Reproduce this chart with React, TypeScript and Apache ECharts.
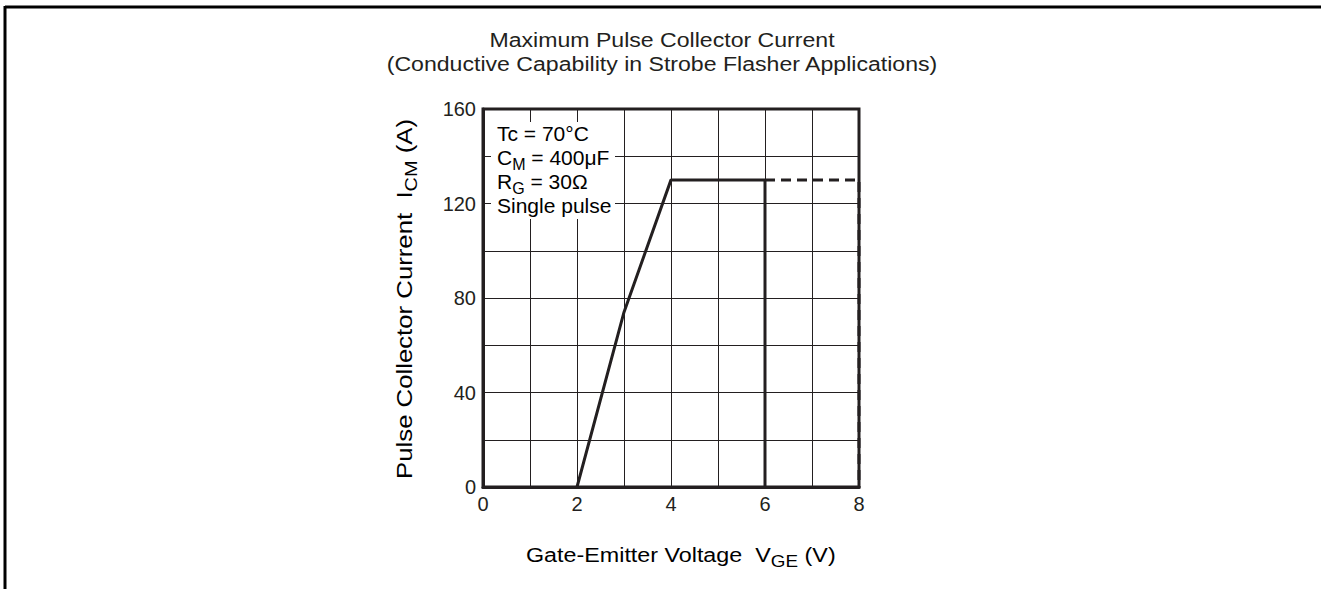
import React, { useEffect, useRef } from "react";
import * as echarts from "echarts";

const titleLines = [
  "Maximum Pulse Collector Current",
  "(Conductive Capability in Strobe Flasher Applications)",
];
const xTickLabels = [0, 2, 4, 6, 8];
const yTickLabels = [0, 40, 80, 120, 160];
const solidX = [2, 3, 4, 6, 6];
const solidY = [0, 74, 130, 130, 0];
const dashX = [6, 8, 8];
const dashY = [130, 130, 0];
const noteLines = [
  "{a|Tc = 70°C}",
  "{a|C}{s|M}{a| = 400μF}",
  "{a|R}{s|G}{a| = 30Ω}",
  "{a|Single pulse}",
];

const FONT = "'Liberation Sans', Arial, Helvetica, sans-serif";
const INK = "#231f20";

function rich(size: number, sub: number) {
  return {
    a: { fontSize: size, fontFamily: FONT, color: INK, lineHeight: size, verticalAlign: "top" },
    s: {
      fontSize: sub,
      fontFamily: FONT,
      color: INK,
      lineHeight: sub - 2,
      padding: [Math.round(size * 0.45), 0, 0, 0],
      verticalAlign: "top",
    },
  };
}

export default function App() {
  const ref = useRef<HTMLDivElement>(null);
  useEffect(() => {
    if (!ref.current) return;
    const chart = echarts.init(ref.current, undefined, { renderer: "svg" });
    const graphicEls: any[] = [
      { type: "line", shape: { x1: 5, y1: 6, x2: 5, y2: 589 }, style: { stroke: "#000", lineWidth: 3 }, z: 100 },
      { type: "line", shape: { x1: 5, y1: 7, x2: 1321, y2: 7 }, style: { stroke: "#000", lineWidth: 3 }, z: 100 },
      { type: "rect", shape: { x: 491, y: 122, width: 124, height: 97 }, style: { fill: "#fff" }, z: 100 },
      {
        type: "text",
        x: 662,
        y: 40,
        scaleX: 1.1,
        style: { text: titleLines[0], font: `21px ${FONT}`, fill: INK, align: "center", verticalAlign: "middle" },
        z: 100,
      },
      {
        type: "text",
        x: 662,
        y: 64,
        scaleX: 1.1,
        style: { text: titleLines[1], font: `21px ${FONT}`, fill: INK, align: "center", verticalAlign: "middle" },
        z: 100,
      },
      {
        type: "text",
        x: 526,
        y: 544,
        scaleX: 1.11,
        style: {
          text: "{a|Gate-Emitter Voltage  V}{s|GE}{a| (V)}",
          rich: rich(21, 17),
          align: "left",
          verticalAlign: "top",
        },
        z: 100,
      },
      {
        type: "text",
        x: 393,
        y: 299,
        rotation: Math.PI / 2,
        scaleX: 1.17,
        style: {
          text: "{a|Pulse Collector Current  I}{s|CM}{a| (A)}",
          rich: rich(22, 17),
          align: "center",
          verticalAlign: "top",
        },
        z: 100,
      },
    ];
    noteLines.forEach((t, i) => {
      graphicEls.push({
        type: "text",
        x: 497,
        y: 123 + i * 24,
        style: { text: t, rich: rich(21, 16), align: "left", verticalAlign: "top" },
        z: 101,
      });
    });

    chart.setOption({
      animation: false,
      backgroundColor: "#fff",
      grid: {
        left: 483,
        right: 462,
        top: 109,
        bottom: 102,
        show: true,
        borderColor: INK,
        borderWidth: 3,
        backgroundColor: "transparent",
      },
      xAxis: {
        type: "value",
        min: 0,
        max: 8,
        interval: 1,
        axisLine: { show: true, lineStyle: { color: INK, width: 3 } },
        axisTick: { show: false },
        splitLine: { show: true, lineStyle: { color: INK, width: 1 } },
        axisLabel: {
          margin: 7,
          fontSize: 20,
          fontFamily: FONT,
          color: INK,
          formatter: (v: number) => (xTickLabels.includes(v) ? String(v) : ""),
        },
      },
      yAxis: {
        type: "value",
        min: 0,
        max: 160,
        interval: 20,
        axisLine: { show: true, lineStyle: { color: INK, width: 3 } },
        axisTick: { show: false },
        splitLine: { show: true, lineStyle: { color: INK, width: 1 } },
        axisLabel: {
          margin: 7,
          fontSize: 20,
          fontFamily: FONT,
          color: INK,
          formatter: (v: number) => (yTickLabels.includes(v) ? String(v) : ""),
        },
      },
      series: [
        {
          type: "line",
          data: solidX.map((x, i) => [x, solidY[i]]),
          showSymbol: false,
          lineStyle: { color: INK, width: 3, type: "solid" },
          z: 5,
        },
        {
          type: "line",
          data: dashX.map((x, i) => [x, dashY[i]]),
          showSymbol: false,
          lineStyle: { color: INK, width: 3, type: [10, 6] },
          z: 5,
        },
      ],
      graphic: { elements: graphicEls },
    });
    return () => chart.dispose();
  }, []);
  return (
    <div
      ref={ref}
      style={{ position: "absolute", left: 0, top: 0, width: 1321, height: 589 }}
    />
  );
}
